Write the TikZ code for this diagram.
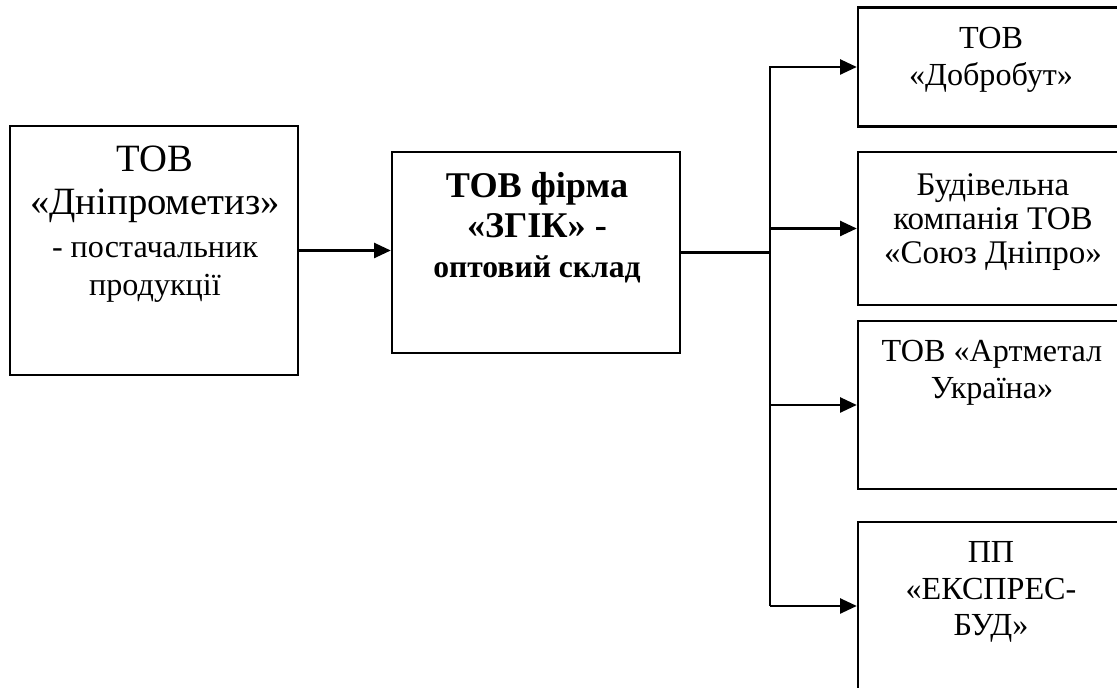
\documentclass[tikz,border=0pt]{standalone}
\usepackage{fontspec}
\setmainfont{Liberation Serif}
\usetikzlibrary{arrows.meta,positioning}
\newcommand{\fsz}[2]{\fontsize{#1}{#2}\selectfont}

\begin{document}
\begin{tikzpicture}[
      x=0.02cm, y=-0.02cm,
      box/.style={draw, line width=1.4pt, minimum width=5.76cm, inner sep=0pt},
      cli/.style={box, minimum width=5.36cm},
      txt/.style={anchor=north, align=center, inner sep=0pt},
      bigtxt/.style={txt, font=\fsz{22pt}{24.4pt}},
      cltxt/.style={txt, font=\fsz{18.3pt}{21.5pt}},
      ln/.style={line width=1.4pt},
      arr/.style={ln, -{Triangle[length=9.5pt, width=8.5pt]}}
    ]
    \useasboundingbox (0,0) rectangle (1117,688);
    \clip (0,0) rectangle (1117,688);

    % supplier
    \node[box, minimum height=4.98cm] (sup) at (154,250.5) {};
    \node[bigtxt] (suptxt) at (155,146)
      {ТОВ\\ «Дніпрометиз»\\ {\fsz{18.3pt}{24.4pt}- постачальник}\\[-2.8pt]
       {\fsz{18.3pt}{24.4pt}продукції}};

    % wholesale warehouse
    \node[box, minimum height=4.02cm] (zgik) at (536,252.5) {};
    \node[txt, font=\bfseries\fsz{20.6pt}{22.7pt}] (zgiktxt) at (537,172)
      {ТОВ фірма\\ «ЗГІК» -\\ {\fsz{18pt}{22.7pt}оптовий склад}};

    % customers
    \node[cli, minimum height=2.38cm] (dob) at (992,67) {};
    \node[cltxt] (dobtxt) at (991,26.5) {ТОВ\\ «Добробут»};

    \node[cli, minimum height=3.06cm] (soyuz) at (992,228.5) {};
    \node[cltxt, font=\fsz{18.8pt}{19.5pt}] (soyuztxt) at (993,173)
      {Будівельна\\ компанія ТОВ\\ «Союз Дніпро»};

    \node[cli, minimum height=3.36cm] (art) at (992,405) {};
    \node[cltxt] (arttxt) at (992,339.5) {ТОВ «Артметал\\ Україна»};

    \node[cli, minimum height=3.36cm] (eksp) at (992,606) {};
    \node[cltxt, font=\fsz{18.3pt}{20.7pt}] (eksptxt) at (991,541.5)
      {ПП\\ «ЕКСПРЕС-\\ БУД»};

    % connectors
    \coordinate (bustop) at (770,67);
    \coordinate (busbot) at (770,605);
    \draw[arr] (sup.east) -- (sup.east -| zgik.west);
    \draw[ln] (zgik.east) -- (zgik.east -| bustop);
    \draw[ln, line cap=rect] (bustop) -- (busbot);
    \draw[arr] (dob.west -| bustop) -- (dob.west);
    \draw[arr] (soyuz.west -| bustop) -- (soyuz.west);
    \draw[arr] (art.west -| bustop) -- (art.west);
    \draw[arr] (eksp.west -| bustop) -- (eksp.west);
  \end{tikzpicture}
\end{document}
